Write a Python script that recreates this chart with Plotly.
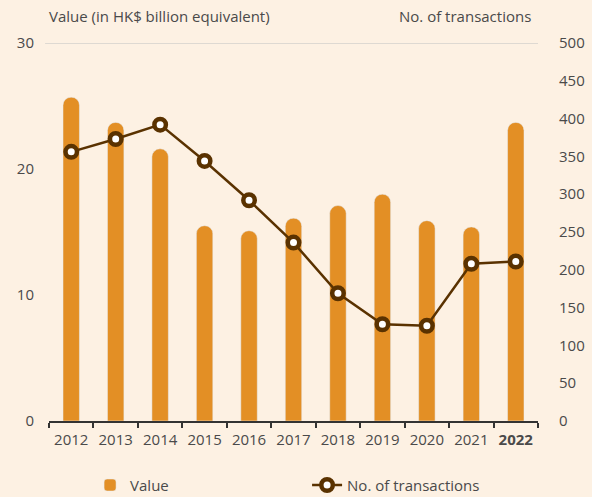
import plotly.graph_objects as go

years = ["2012", "2013", "2014", "2015", "2016", "2017", "2018", "2019", "2020", "2021", "2022"]
tick_labels = ["2012", "2013", "2014", "2015", "2016", "2017", "2018", "2019", "2020", "2021", "<b>2022</b>"]
value_bn = [25.7, 23.7, 21.6, 15.5, 15.1, 16.1, 17.1, 18.0, 15.9, 15.4, 23.7]
num_transactions = [356, 373, 392, 344, 292, 236, 169, 128, 126, 208, 211]

BG = "#FDF1E3"
BAR = "#E38F25"
LINE = "#5A3200"
TXT = "#4a4a4a"
FONT = "Open Sans"
FS = 15

fig = go.Figure()
fig.add_trace(go.Bar(
    x=years, y=value_bn, name="Value", marker_color=BAR, width=0.37,
    yaxis="y",
))
fig.add_trace(go.Scatter(
    x=years, y=num_transactions, name="No. of transactions", yaxis="y2",
    mode="lines+markers",
    line=dict(color=LINE, width=2.5),
    marker=dict(size=11.5, color="white", line=dict(color=LINE, width=4.5)),
))

fig.add_shape(type="line", xref="paper", yref="y", x0=-0.008, x1=1, y0=30, y1=30,
              line=dict(color="#d3d0cc", width=1.5), layer="below")

fig.add_annotation(text="Value (in HK$ billion equivalent)", xref="paper", yref="paper",
                   x=-0.005, y=1.0, yshift=27, xanchor="left", yanchor="middle", showarrow=False,
                   font=dict(family=FONT, size=FS, color=TXT))
fig.add_annotation(text="No. of transactions", xref="paper", yref="paper",
                   x=0.99, y=1.0, yshift=27, xanchor="right", yanchor="middle", showarrow=False,
                   font=dict(family=FONT, size=FS, color=TXT))

fig.update_layout(
    width=592, height=497,
    paper_bgcolor=BG, plot_bgcolor=BG,
    margin=dict(l=49, r=54, t=43, b=76, autoexpand=False),
    barcornerradius=8,
    font=dict(family=FONT, size=FS, color=TXT),
    showlegend=True,
    legend=dict(orientation="h", x=0.084, xanchor="left", y=-0.17, yanchor="middle",
                entrywidth=172, entrywidthmode="pixels",
                font=dict(family=FONT, size=FS, color=TXT), bgcolor="rgba(0,0,0,0)"),
    xaxis=dict(
        tickmode="array", tickvals=years, ticktext=tick_labels, automargin=False,
        tickangle=0, range=[-0.5, 10.5], autorange=False, ticklabelstandoff=4,
        showline=True, linecolor="#333333", linewidth=2,
        ticks="outside", tickson="boundaries", ticklen=5, tickcolor="#333333", tickwidth=1.5,
        showgrid=False, tickfont=dict(family=FONT, size=FS, color=TXT),
    ),
    yaxis=dict(
        range=[0, 30], tickvals=[0, 10, 20, 30], showgrid=False, zeroline=False,
        showline=False, ticks="", ticklabelstandoff=14, automargin=False,
        tickfont=dict(family=FONT, size=FS, color=TXT),
    ),
    yaxis2=dict(
        range=[0, 500], tickvals=list(range(0, 501, 50)), overlaying="y", side="right",
        showgrid=False, zeroline=False, showline=False, ticks="", ticklabelstandoff=20,
        automargin=False,
        tickfont=dict(family=FONT, size=FS, color=TXT),
    ),
)

fig.write_html("out.html", config={"displayModeBar": False},
               post_script="document.body.style.margin='0';document.body.style.backgroundColor='#FDF1E3';")
